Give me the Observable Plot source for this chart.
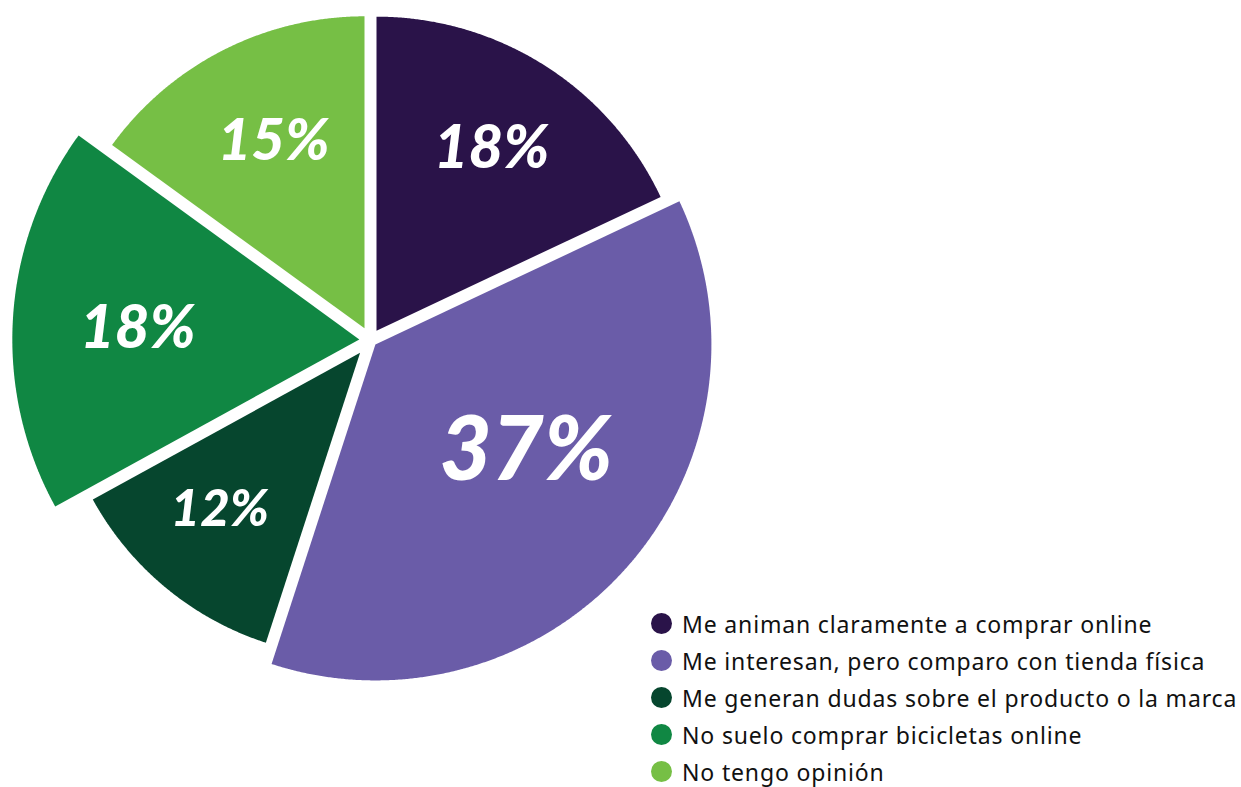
<!DOCTYPE html>
<html><head><meta charset="utf-8">
<script src="https://cdn.jsdelivr.net/npm/d3@7"></script>
<script src="https://cdn.jsdelivr.net/npm/@observablehq/plot@0.6"></script>
<style>
html,body{margin:0;padding:0;background:#fff;}
#wrap{position:relative;width:1241px;height:787px;overflow:hidden;}
#legend{position:absolute;left:651px;top:605px;font-family:"Noto Sans",Lato,sans-serif;font-size:23px;color:#111;}
#legend .row{display:flex;align-items:center;height:37px;white-space:nowrap;}
#legend .dot{width:21px;height:21px;border-radius:50%;margin-right:10px;flex:none;}
</style></head><body><div id="wrap"></div>
<script>
// ---- data ----
const categories = [
  "Me animan claramente a comprar online",
  "Me interesan, pero comparo con tienda física",
  "Me generan dudas sobre el producto o la marca",
  "No suelo comprar bicicletas online",
  "No tengo opinión"
];
const values = [18, 37, 12, 18, 15];
const valueLabels = ["18%", "37%", "12%", "18%", "15%"];
const colors = ["#2a1349", "#6a5ca8", "#06462e", "#108743", "#76bf45"];

// ---- styling ----
const outerRadius = [314, 336, 305, 347, 312];
const labelFontSize = [60, 90, 51, 60, 58];
const labelDistance = [226, 191, 227, 233, 221];
const labelTurn = [0, -6, 2, -0.7, 1]; // degrees
const gap = 12;

const total = d3.sum(values);
let acc = 0;
const slices = values.map((v, i) => {
  const a0 = acc / total * 2 * Math.PI; acc += v;
  const a1 = acc / total * 2 * Math.PI;
  return {i, cat: categories[i], a0, a1};
});
const pts = [];
const labelData = [];
for (const s of slices) {
  const mid = (s.a0 + s.a1) / 2, half = (s.a1 - s.a0) / 2;
  const shift = gap / 2 / Math.sin(half);
  const ax = shift * Math.sin(mid), ay = -shift * Math.cos(mid);
  const r = outerRadius[s.i];
  pts.push({cat: s.cat, x: ax, y: ay});
  const n = Math.ceil((s.a1 - s.a0) / (Math.PI / 720));
  for (let k = 0; k <= n; k++) {
    const a = s.a0 + (s.a1 - s.a0) * k / n;
    pts.push({cat: s.cat, x: ax + r * Math.sin(a), y: ay - r * Math.cos(a)});
  }
  const la = mid + labelTurn[s.i] * Math.PI / 180;
  labelData.push({
    x: labelDistance[s.i] * Math.sin(la),
    y: -labelDistance[s.i] * Math.cos(la),
    text: valueLabels[s.i],
    size: labelFontSize[s.i]
  });
}

const chart = Plot.plot({
  width: 1241, height: 787,
  margin: 0,
  x: {domain: [-370, 871], range: [0, 1241], axis: null},
  y: {domain: [-339.6, 447.4], range: [0, 787], axis: null},
  color: {domain: categories, range: colors},
  marks: [
    Plot.line(pts, {x: "x", y: "y", z: "cat", fill: "cat", stroke: "none", curve: "linear-closed"}),
    Plot.text(labelData, {x: "x", y: "y", text: "text", fontSize: "size", fill: "white",
      fontWeight: 900, fontStyle: "italic", fontFamily: "Lato, 'Noto Sans', sans-serif", textAnchor: "middle"})
  ]
});
const wrap = document.getElementById("wrap");
wrap.appendChild(chart);

const legend = document.createElement("div");
legend.id = "legend";
categories.forEach((c, i) => {
  const row = document.createElement("div");
  row.className = "row";
  const dot = document.createElement("span");
  dot.className = "dot";
  dot.style.background = colors[i];
  const t = document.createElement("span");
  t.textContent = c;
  row.appendChild(dot); row.appendChild(t);
  legend.appendChild(row);
});
wrap.appendChild(legend);

// fit the longest legend line to the reference width
const spans = legend.querySelectorAll(".row span:last-child");
const widest = d3.max(Array.from(spans), s => s.getBoundingClientRect().width);
const target = 555;
legend.style.letterSpacing = ((target - widest) / 45).toFixed(2) + "px";
</script>
</body></html>
